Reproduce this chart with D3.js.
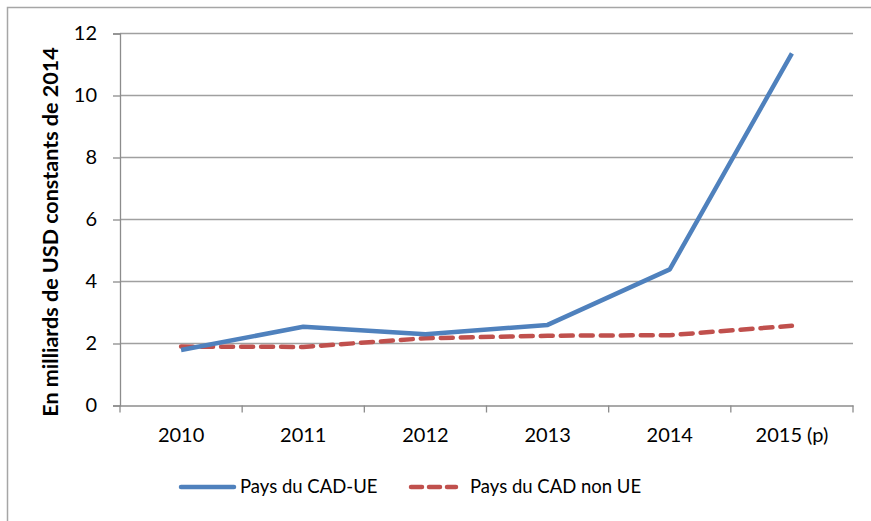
<!DOCTYPE html>
<html>
  <head>
    <meta charset="utf-8">
    <title>Pays du CAD</title>
    <script src="https://cdn.jsdelivr.net/npm/d3@7"></script>
    <style>
      body { margin: 0; background: #fff; }
      text { font-family: Lato, "Open Sans", sans-serif; fill: #000; }
    </style>
  </head>
  <body>
    <script>
      var years = ["2010", "2011", "2012", "2013", "2014", "2015 (p)"];
      var cadUE = [1.79, 2.54, 2.3, 2.6, 4.39, 11.36];
      var cadNonUE = [1.9, 1.89, 2.17, 2.25, 2.27, 2.57];
      var yTicks = [0, 2, 4, 6, 8, 10, 12];

      var svg = d3.select("body").append("svg")
        .attr("width", 871)
        .attr("height", 521);

      // outer frame (runs off the right/bottom edge in the original)
      svg.append("rect")
        .attr("x", 7.5).attr("y", 7.5)
        .attr("width", 880).attr("height", 530)
        .attr("fill", "none")
        .attr("stroke", "#a6a6a6")
        .attr("stroke-width", 1.5);

      var pLeft = 120, pRight = 853, pTop = 33.5, pBottom = 405.5;

      var x = d3.scaleBand().domain(years).range([pLeft, pRight]);
      var y = d3.scaleLinear().domain([0, 12]).range([pBottom, pTop]);

      // gridlines
      svg.selectAll(".grid")
        .data(yTicks.slice(1))
        .enter().append("line")
        .attr("x1", pLeft).attr("x2", pRight)
        .attr("y1", function(d) { return y(d); })
        .attr("y2", function(d) { return y(d); })
        .attr("stroke", "#a0a0a0")
        .attr("stroke-width", 1.3);

      var yAxis = svg.append("g")
        .attr("transform", "translate(" + pLeft + ",0)")
        .call(d3.axisLeft(y).tickValues(yTicks).tickSize(7).tickPadding(16));
      yAxis.select(".domain").attr("stroke", "#8c8c8c").attr("stroke-width", 1.3);
      yAxis.selectAll(".tick line").attr("stroke", "#8c8c8c").attr("stroke-width", 1.3);
      yAxis.selectAll("text").style("font-size", "20px").attr("fill", "#000")
        .style("font-family", "Lato, sans-serif");

      var xAxis = svg.append("g")
        .attr("transform", "translate(0," + pBottom + ")")
        .call(d3.axisBottom(x).tickSize(0).tickPadding(22));
      xAxis.select(".domain").attr("stroke", "#8c8c8c").attr("stroke-width", 1.3);
      xAxis.selectAll("text").style("font-size", "20px").attr("fill", "#000")
        .style("font-family", "Lato, sans-serif");

      // category boundary ticks
      var bounds = years.map(function(d) { return x(d); }).concat([pRight]);
      svg.selectAll(".xt")
        .data(bounds)
        .enter().append("line")
        .attr("x1", function(d) { return d; })
        .attr("x2", function(d) { return d; })
        .attr("y1", pBottom).attr("y2", pBottom + 7)
        .attr("stroke", "#8c8c8c")
        .attr("stroke-width", 1.3);

      var cx = function(d, i) { return x(years[i]) + x.bandwidth() / 2; };
      var line = d3.line().x(cx).y(function(d) { return y(d); });

      svg.append("path")
        .datum(cadNonUE)
        .attr("d", line)
        .attr("fill", "none")
        .attr("stroke", "#c0504d")
        .attr("stroke-width", 4.5)
        .attr("stroke-dasharray", "12 8")
        .attr("stroke-linecap", "round");

      svg.append("path")
        .datum(cadUE)
        .attr("d", line)
        .attr("fill", "none")
        .attr("stroke", "#4f81bd")
        .attr("stroke-width", 4.5)
        .attr("stroke-linejoin", "round");

      svg.append("text")
        .attr("transform", "translate(50,232) rotate(-90)")
        .attr("text-anchor", "middle")
        .attr("dy", "0.35em")
        .style("font-size", "21.5px")
        .style("font-weight", "bold")
        .text("En milliards de USD constants de 2014");

      // legend
      var legend = [
        { name: "Pays du CAD-UE", color: "#4f81bd", dash: null, x1: 181, x2: 234, tx: 240 },
        { name: "Pays du CAD non UE", color: "#c0504d", dash: "11 7", x1: 411, x2: 456, tx: 470 }
      ];
      var lg = svg.selectAll(".lg").data(legend).enter().append("g");
      lg.append("line")
        .attr("x1", function(d) { return d.x1; })
        .attr("x2", function(d) { return d.x2; })
        .attr("y1", 487).attr("y2", 487)
        .attr("stroke", function(d) { return d.color; })
        .attr("stroke-width", 4.5)
        .attr("stroke-linecap", "round")
        .attr("stroke-dasharray", function(d) { return d.dash; });
      lg.append("text")
        .attr("x", function(d) { return d.tx; })
        .attr("y", 487)
        .attr("dy", "0.35em")
        .style("font-size", "18.5px")
        .text(function(d) { return d.name; });
    </script>
  </body>
</html>
